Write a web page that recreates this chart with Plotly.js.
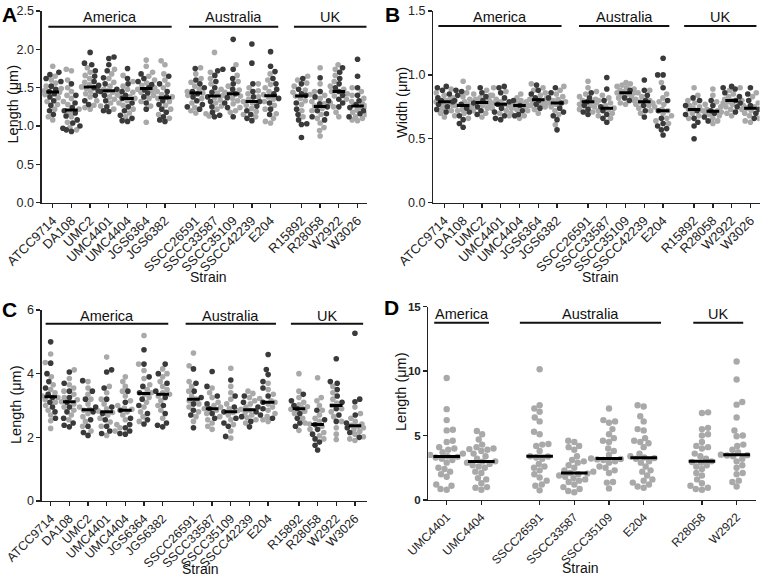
<!DOCTYPE html>
<html>
<head>
<meta charset="utf-8">
<script src="https://cdn.plot.ly/plotly-3.0.1.min.js"></script>
<style>html,body{margin:0;padding:0;background:#fff}#chart{width:760px;height:578px}</style>
</head>
<body>
<div id="chart"></div>
<script>
// ---------- categories ----------
const strainsABC = ['ATCC9714','DA108','UMC2','UMC4401','UMC4404','JGS6364','JGS6382','SSCC26591','SSCC33587','SSCC35109','SSCC42239','E204','R15892','R28058','W2922','W3026'];
const posABC = [0,1,2,3,4,5,6,7.65,8.65,9.65,10.65,11.65,13.3,14.3,15.3,16.3];
const strainsD = ['UMC4401','UMC4404','SSCC26591','SSCC33587','SSCC35109','E204','R28058','W2922'];
const posD = [0,1,2.68,3.68,4.68,5.68,7.36,8.36];
const groupNames = ['America','Australia','UK'];

// ---------- Panel A: length (µm), two replicates (dark / light) ----------
const A_dark = [
 [1.70,1.67,1.62,1.58,1.52,1.48,1.45,1.42,1.38,1.33,1.27,1.20,1.15],
 [1.55,1.40,1.30,1.24,1.20,1.17,1.13,1.08,1.04,1.00,0.97,0.95,0.93],
 [1.96,1.82,1.80,1.72,1.65,1.58,1.53,1.50,1.46,1.40,1.33,1.28],
 [1.90,1.88,1.80,1.72,1.63,1.55,1.48,1.45,1.40,1.33,1.25,1.20,1.19],
 [1.75,1.62,1.55,1.45,1.40,1.36,1.30,1.25,1.20,1.14,1.10,1.07,1.06],
 [1.68,1.62,1.58,1.54,1.50,1.47,1.43,1.38,1.30,1.22],
 [1.65,1.55,1.45,1.38,1.33,1.28,1.22,1.18,1.12,1.08,1.06],
 [1.75,1.60,1.55,1.50,1.45,1.42,1.38,1.33,1.28,1.25,1.22],
 [1.74,1.72,1.66,1.58,1.50,1.44,1.38,1.32,1.25,1.18,1.14,1.12],
 [2.13,1.74,1.62,1.55,1.48,1.42,1.37,1.30,1.24,1.12],
 [2.07,1.82,1.55,1.45,1.38,1.32,1.26,1.20,1.15,1.10,1.07],
 [1.97,1.78,1.71,1.62,1.55,1.48,1.42,1.36,1.30,1.22,1.15],
 [1.62,1.55,1.48,1.42,1.40,1.30,1.22,1.15,1.08,1.03,1.02,0.85],
 [1.63,1.45,1.38,1.33,1.29,1.25,1.20,1.16,1.12,1.08],
 [1.76,1.70,1.62,1.55,1.50,1.45,1.40,1.35,1.30,1.25],
 [1.87,1.65,1.50,1.40,1.33,1.28,1.24,1.20,1.16,1.12]
];
const A_light = [
 [1.78,1.65,1.60,1.56,1.52,1.49,1.46,1.44,1.41,1.37,1.32,1.28,1.22,1.12,1.08],
 [1.74,1.72,1.60,1.50,1.45,1.40,1.36,1.32,1.28,1.22,1.18,1.12,1.05,0.98,0.95],
 [1.76,1.70,1.66,1.62,1.57,1.54,1.51,1.49,1.45,1.42,1.38,1.33,1.27,1.24,1.22],
 [1.74,1.68,1.62,1.57,1.52,1.48,1.46,1.44,1.41,1.38,1.35,1.30,1.26,1.22],
 [1.66,1.58,1.52,1.48,1.44,1.40,1.38,1.36,1.33,1.30,1.27,1.22,1.17,1.12],
 [1.86,1.78,1.70,1.65,1.60,1.56,1.53,1.50,1.48,1.46,1.44,1.40,1.36,1.32,1.26,1.05],
 [1.85,1.80,1.68,1.60,1.54,1.50,1.45,1.41,1.38,1.36,1.32,1.27,1.22,1.15,1.10],
 [1.76,1.68,1.62,1.57,1.52,1.48,1.45,1.43,1.40,1.36,1.30,1.24,1.20,1.17],
 [1.96,1.70,1.62,1.55,1.48,1.43,1.40,1.37,1.34,1.30,1.26,1.22,1.16,1.13],
 [1.80,1.66,1.58,1.52,1.47,1.44,1.42,1.39,1.36,1.33,1.29,1.24,1.20,1.18],
 [1.55,1.50,1.46,1.42,1.38,1.35,1.32,1.30,1.27,1.23,1.19,1.15,1.12],
 [1.68,1.60,1.54,1.50,1.45,1.41,1.38,1.35,1.32,1.27,1.22,1.16,1.10,1.06,1.04],
 [1.65,1.60,1.56,1.52,1.47,1.44,1.41,1.39,1.36,1.33,1.28,1.20,1.12],
 [1.76,1.55,1.45,1.40,1.36,1.32,1.29,1.26,1.23,1.20,1.15,1.10,1.04,0.98,0.94,0.87],
 [1.80,1.74,1.66,1.58,1.52,1.48,1.45,1.42,1.39,1.35,1.30,1.25,1.18,1.12],
 [1.50,1.45,1.40,1.36,1.32,1.29,1.26,1.24,1.21,1.18,1.15,1.12,1.10,1.08,1.07]
];

// ---------- Panel B: width (µm) ----------
const B_dark = [
 [0.91,0.90,0.88,0.85,0.82,0.80,0.79,0.77,0.75,0.73,0.71],
 [0.88,0.87,0.84,0.80,0.77,0.74,0.71,0.68,0.65,0.62,0.59],
 [0.90,0.86,0.83,0.80,0.78,0.75,0.72,0.69],
 [0.91,0.90,0.86,0.82,0.79,0.77,0.74,0.71,0.68,0.66,0.65],
 [0.80,0.76,0.72,0.69,0.68],
 [0.92,0.88,0.85,0.82,0.80,0.77,0.74],
 [0.90,0.86,0.82,0.78,0.74,0.71,0.68,0.65,0.57],
 [0.86,0.82,0.79,0.76,0.73,0.71,0.69],
 [0.98,0.89,0.80,0.75,0.72,0.69,0.66,0.63],
 [0.88,0.82,0.80],
 [0.96,0.88,0.84,0.80,0.76,0.72,0.67],
 [1.13,1.00,1.00,0.90,0.80,0.72,0.66,0.62,0.60,0.58,0.57,0.53],
 [0.82,0.80,0.76,0.72,0.69,0.66,0.63,0.60,0.50],
 [0.80,0.76,0.72,0.70,0.67,0.64],
 [0.91,0.90,0.89,0.86,0.83,0.80,0.78,0.75,0.71],
 [0.90,0.85,0.80,0.76,0.73,0.70,0.66]
];
const B_light = [
 [0.89,0.86,0.84,0.82,0.81,0.80,0.79,0.78,0.77,0.76,0.74,0.72,0.70,0.67],
 [0.95,0.90,0.86,0.83,0.81,0.79,0.77,0.76,0.75,0.73,0.72,0.70,0.68,0.66],
 [0.88,0.85,0.84,0.82,0.81,0.80,0.79,0.78,0.77,0.76,0.74,0.72,0.70,0.67],
 [0.90,0.87,0.84,0.81,0.79,0.78,0.77,0.76,0.74,0.72,0.70,0.68],
 [0.85,0.82,0.80,0.79,0.78,0.77,0.77,0.76,0.76,0.75,0.74,0.73,0.72,0.70,0.68,0.66],
 [0.93,0.90,0.88,0.86,0.84,0.82,0.81,0.80,0.79,0.78,0.77,0.76,0.75,0.73,0.70],
 [0.91,0.88,0.85,0.83,0.81,0.80,0.79,0.78,0.77,0.75,0.72,0.69,0.61],
 [0.95,0.90,0.87,0.85,0.83,0.81,0.80,0.79,0.78,0.77,0.76,0.75,0.73,0.71],
 [0.84,0.82,0.80,0.78,0.76,0.74,0.73,0.72,0.70,0.68,0.66],
 [0.94,0.93,0.92,0.91,0.90,0.89,0.88,0.87,0.86,0.86,0.85,0.84,0.83,0.82,0.80,0.78,0.77],
 [0.88,0.86,0.83,0.81,0.80,0.79,0.78,0.77,0.76,0.74,0.72,0.70],
 [0.94,0.85,0.82,0.79,0.77,0.75,0.73,0.72,0.70,0.68,0.66,0.64,0.62],
 [0.90,0.84,0.80,0.78,0.76,0.75,0.74,0.73,0.72,0.70,0.68,0.66],
 [0.89,0.84,0.79,0.77,0.75,0.73,0.72,0.71,0.70,0.69,0.68,0.66,0.64,0.62],
 [0.90,0.88,0.85,0.83,0.81,0.80,0.79,0.78,0.77,0.75,0.73,0.70,0.68],
 [0.86,0.83,0.80,0.78,0.76,0.75,0.74,0.73,0.72,0.70,0.68,0.66,0.64,0.63]
];

// ---------- Panel C: length (µm) ----------
const C_dark = [
 [5.00,4.33,4.00,3.75,3.55,3.35,3.25,3.10,2.95,2.80,2.60],
 [4.05,3.70,3.45,3.25,3.10,2.95,2.80,2.60,2.45,2.38,2.33],
 [3.78,3.45,3.20,2.95,2.80,2.55,2.35,2.15,2.06],
 [4.12,4.05,3.55,3.20,2.95,2.75,2.55,2.35,2.20,2.12],
 [3.45,3.10,2.85,2.60,2.40,2.30,2.20,2.12,2.10],
 [4.75,4.30,3.90,3.60,3.40,3.20,3.00,2.75,2.55,2.42],
 [4.30,4.00,3.70,3.45,3.25,3.00,2.75,2.45,2.38,2.33],
 [4.15,3.70,3.45,3.25,3.05,2.85,2.70,2.30],
 [4.07,3.60,3.30,3.05,2.90,2.75,2.60],
 [3.80,3.30,2.95,2.80,2.60,2.45,2.35,2.03],
 [3.30,3.10,2.95,2.80,2.65,2.50,2.33],
 [4.60,4.13,3.97,3.75,3.55,3.30,3.10,2.90,2.70,2.60],
 [3.35,3.15,3.00,2.90,2.75,2.60,2.45,2.35],
 [2.85,2.55,2.40,2.25,2.10,1.95,1.85,1.75,1.60],
 [4.47,3.75,3.70,3.50,3.30,3.10,2.90,2.70,2.50],
 [5.27,3.20,3.12,2.70,2.45,2.30,2.15,2.00]
];
const C_light = [
 [4.62,4.35,3.90,3.65,3.50,3.40,3.30,3.25,3.18,3.10,3.00,2.85,2.70,2.52,2.28],
 [4.12,3.85,3.65,3.55,3.45,3.35,3.25,3.18,3.12,3.05,2.95,2.85,2.70,2.55],
 [3.75,3.55,3.35,3.20,3.05,2.95,2.88,2.85,2.75,2.65,2.50,2.35,2.20],
 [4.52,3.60,3.40,3.20,3.05,2.90,2.83,2.78,2.70,2.60,2.48,2.35,2.20,2.06],
 [3.90,3.75,3.60,3.45,3.30,3.15,3.00,2.92,2.88,2.80,2.70,2.55,2.40,2.30],
 [5.20,4.30,4.10,3.85,3.65,3.50,3.40,3.35,3.25,3.10,2.95,2.80,2.65,2.50],
 [4.15,4.00,3.90,3.75,3.60,3.50,3.40,3.35,3.30,3.15,3.00,2.85,2.60],
 [4.65,4.25,3.75,3.60,3.45,3.30,3.20,3.15,3.05,2.95,2.80,2.65,2.50],
 [3.55,3.40,3.25,3.10,3.00,2.95,2.90,2.85,2.75,2.65,2.55,2.45,2.35,2.25],
 [4.17,3.60,3.40,3.20,3.05,2.90,2.84,2.78,2.70,2.55,2.40,2.20,1.98],
 [3.45,3.38,3.25,3.15,3.05,2.95,2.88,2.85,2.78,2.70,2.62,2.55,2.45],
 [3.70,3.50,3.35,3.22,3.15,3.10,3.05,2.95,2.85,2.75,2.65,2.55,2.50],
 [4.00,3.45,3.25,3.10,3.02,2.96,2.93,2.88,2.82,2.75,2.60,2.45,2.22],
 [3.87,3.25,3.15,3.00,2.85,2.70,2.60,2.50,2.42,2.35,2.25,2.15,2.05,1.95],
 [3.60,3.40,3.20,3.08,3.00,2.90,2.80,2.65,2.50,2.30,2.10,1.93],
 [2.95,2.75,2.60,2.50,2.42,2.38,2.35,2.30,2.25,2.18,2.10,2.02,1.95,1.90]
];

// ---------- Panel D: length (µm), single series ----------
const D_vals = [
 [9.47,7.05,6.2,5.45,5.4,4.6,4.5,4.1,4.0,3.9,3.7,3.6,3.5,3.4,3.35,3.3,3.2,3.1,2.9,2.5,2.4,2.2,2.0,1.8,1.2,1.1,0.85,0.8],
 [5.35,5.1,4.7,4.3,4.1,4.0,3.95,3.9,3.8,3.6,3.4,3.2,3.0,2.98,2.9,2.8,2.7,2.6,2.5,2.2,2.1,1.7,1.6,1.3,1.0,0.8,0.95],
 [10.15,7.35,7.1,6.85,6.4,6.1,5.3,5.1,4.35,4.3,4.2,3.8,3.4,3.38,3.3,3.2,2.8,2.6,2.5,2.3,2.0,1.75,1.1,1.2,0.75,1.5],
 [4.6,4.5,4.2,4.1,3.9,3.4,3.1,3.0,2.9,2.7,2.5,2.3,2.2,2.1,2.05,2.0,1.9,1.8,1.7,1.6,1.5,1.4,1.2,1.0,0.85,0.7,0.6],
 [7.1,6.2,6.1,6.0,5.5,5.1,4.8,4.6,4.5,4.0,3.8,3.5,3.22,3.18,3.15,3.1,3.0,2.9,2.6,2.5,2.3,2.1,1.4,1.35,0.9],
 [7.35,7.25,6.5,6.1,5.5,5.4,4.8,4.6,4.5,4.4,4.1,3.6,3.4,3.3,3.25,3.2,3.0,2.9,2.6,2.3,2.2,1.9,1.6,1.5,1.35,1.2,1.05,0.95],
 [6.8,6.75,5.6,5.5,5.1,5.0,4.5,4.2,4.1,4.0,3.6,3.4,3.2,3.0,2.95,2.9,2.7,2.6,2.4,2.1,1.9,1.6,1.3,1.1,0.95,0.85,0.8],
 [10.75,9.35,7.6,7.4,6.4,5.4,5.0,4.95,4.3,4.2,3.9,3.7,3.52,3.48,3.45,3.4,3.2,3.0,2.7,2.5,2.1,2.0,1.5,1.4,1.05]
];

// ---------- helpers ----------
const FONT = 'Liberation Sans, Arial, sans-serif';
const DARK = '#3a3a3a', LIGHT = '#a9a9a9';

function median(a){const s=a.slice().sort((x,y)=>x-y);const n=s.length;return n%2?s[(n-1)/2]:(s[n/2-1]+s[n/2])/2;}

// deterministic beeswarm: returns horizontal offsets (px) for values
function swarm(vals, ys, d, maxW){
  const idx = vals.map((v,i)=>i).sort((a,b)=>vals[a]-vals[b]);
  const placed=[]; const off=new Array(vals.length); let flip=1;
  for(const i of idx){
    const y=vals[i]*ys;
    const near=placed.filter(p=>Math.abs(p.y-y)<d);
    const cands=[0];
    near.forEach(p=>{const dx=Math.sqrt(Math.max(0,d*d-(p.y-y)*(p.y-y)));cands.push(p.x+dx,p.x-dx);});
    cands.sort((a,b)=>(Math.abs(a)-Math.abs(b))||(flip*(b-a)));
    flip=-flip;
    let best=null;
    for(const c of cands){
      if(Math.abs(c)>maxW) break;
      if(near.every(p=>(p.x-c)*(p.x-c)+(p.y-y)*(p.y-y)>=d*d-1e-6)){best=c;break;}
    }
    if(best===null){
      let bs=-1;
      for(let c=-maxW;c<=maxW+1e-9;c+=0.5){
        const m=Math.min(...near.map(p=>Math.hypot(p.x-c,p.y-y)));
        if(m>bs+1e-9){bs=m;best=c;}
      }
    }
    placed.push({x:best,y}); off[i]=best;
  }
  return off;
}

function panelTraces(pos, darkArr, lightArr, xa, ya, xs, ys, d, maxW, msize, medSize){
  const dx=[],dy=[],lx=[],ly=[],mx=[],my=[];
  pos.forEach((p,k)=>{
    const dk = darkArr ? darkArr[k] : [];
    const lk = lightArr[k];
    const all = dk.concat(lk);
    const off = swarm(all, ys, d, maxW);
    all.forEach((v,j)=>{
      const x = p + off[j]/xs;
      if(j<dk.length){dx.push(x);dy.push(v);} else {lx.push(x);ly.push(v);}
    });
    mx.push(p); my.push(median(all));
  });
  const tr=[];
  tr.push({type:'scatter',mode:'markers',x:lx,y:ly,xaxis:xa,yaxis:ya,marker:{color:LIGHT,size:msize,line:{width:0}},hoverinfo:'y',showlegend:false});
  if(darkArr) tr.push({type:'scatter',mode:'markers',x:dx,y:dy,xaxis:xa,yaxis:ya,marker:{color:DARK,size:msize,line:{width:0}},hoverinfo:'y',showlegend:false});
  tr.push({type:'scatter',mode:'markers',x:mx,y:my,xaxis:xa,yaxis:ya,marker:{symbol:'line-ew',size:medSize,line:{color:'#000',width:3}},hoverinfo:'y',showlegend:false});
  return tr;
}

const traces = [].concat(
  panelTraces(posABC, A_dark, A_light, 'x',  'y',  18.7, 76.7, 5.4, 8.5, 5.6, 9),
  panelTraces(posABC, B_dark, B_light, 'x2', 'y2', 18.8, 128,  5.4, 8.5, 5.6, 9),
  panelTraces(posABC, C_dark, C_light, 'x3', 'y3', 18.7, 31.8, 5.4, 8.5, 5.6, 9),
  panelTraces(posD,   null,   D_vals,  'x4', 'y4', 34.7, 12.9, 6.2, 20, 6.4, 19)
);

const axBase = {showline:true,linecolor:'#222',linewidth:1.3,ticks:'outside',ticklen:4,tickwidth:1.3,tickcolor:'#222',
  showgrid:false,zeroline:false,tickfont:{family:FONT,size:12.5,color:'#222'}};
function xAx(domain, range, vals, text, anchor, fs){return Object.assign({},axBase,{domain,range,tickmode:'array',tickvals:vals,ticktext:text,tickangle:-45,anchor,
  ticklabeloverflow:'allow',tickfont:{family:FONT,size:fs,color:'#222'}});}
function yAx(domain, range, vals, fmt, anchor, bold){const a=Object.assign({},axBase,{domain,range,tickmode:'array',tickvals:vals,tickformat:fmt,anchor});
  if(bold) a.tickfont={family:FONT,size:11.5,color:'#222',weight:'bold'}; return a;}

const W=760,H=578;
const layout = {
  width:W,height:H,margin:{l:0,r:0,t:0,b:0},paper_bgcolor:'#fff',plot_bgcolor:'rgba(0,0,0,0)',showlegend:false,
  xaxis:  xAx([41.7/W,366.7/W],[-0.59,16.79],posABC,strainsABC,'y',13),
  yaxis:  yAx([1-202.7/H,1-11/H],[0,2.5],[0,0.5,1,1.5,2,2.5],'.1f','x'),
  xaxis2: xAx([433.3/W,0.9995],[-0.59,16.79],posABC,strainsABC,'y2',13),
  yaxis2: yAx([1-202.7/H,1-11/H],[0,1.5],[0,0.5,1,1.5],'.1f','x2'),
  xaxis3: xAx([41.7/W,366.7/W],[-0.48,16.93],posABC,strainsABC,'y3',12.5),
  yaxis3: yAx([1-501/H,1-310/H],[0,6],[0,2,4,6],'d','x3'),
  xaxis4: xAx([428.3/W,755.7/W],[-0.53,8.91],posD,strainsD,'y4',12),
  yaxis4: yAx([1-500/H,1-306.7/H],[0,15],[0,5,10,15],'d','x4',true),
  shapes:[],annotations:[]
};

// group headers: [xref, yref, lines [[x0,x1],...], lineY, textY]
const groups = [
  ['x','y',[[-0.235,6.36],[7.29,12.06],[12.9,16.79]],0.918,0.969],
  ['x2','y2',[[-0.32,6.24],[7.17,11.98],[12.77,16.62]],0.922,0.969],
  ['x3','y3',[[-0.27,6.3],[7.23,12.07],[12.87,16.74]],0.928,0.967],
  ['x4','y4',[[-0.36,1.22],[2.11,6.18],[7.11,8.55]],0.917,0.962]
];
groups.forEach(g=>{
  g[2].forEach((seg,i)=>{
    layout.shapes.push({type:'line',xref:g[0],yref:g[1]+' domain',x0:seg[0],x1:seg[1],y0:g[3],y1:g[3],line:{color:'#111',width:2}});
    layout.annotations.push({xref:g[0],yref:g[1]+' domain',x:(seg[0]+seg[1])/2,y:g[4],text:groupNames[i],showarrow:false,
      xanchor:'center',yanchor:'middle',font:{family:FONT,size:14.5,color:'#111'}});
  });
});

// panel letters
[['A',0,1],['B',383,1],['C',0,296],['D',382,294]].forEach(p=>{
  layout.annotations.push({xref:'paper',yref:'paper',x:p[1]/W,y:1-p[2]/H,text:'<b>'+p[0]+'</b>',showarrow:false,
    xanchor:'left',yanchor:'top',font:{family:FONT,size:21,color:'#000'}});
});
// y titles
[['Length (μm)',12.5,105],['Width (μm)',402,103],['Length (μm)',16,405],['Length (μm)',401,392]].forEach(t=>{
  layout.annotations.push({xref:'paper',yref:'paper',x:t[1]/W,y:1-t[2]/H,text:t[0],textangle:-90,showarrow:false,
    xanchor:'center',yanchor:'middle',font:{family:FONT,size:14.5,color:'#111'}});
});
// x titles
[[208,277],[600,277],[200,569],[580,568]].forEach(t=>{
  layout.annotations.push({xref:'paper',yref:'paper',x:t[0]/W,y:1-t[1]/H,text:'Strain',showarrow:false,
    xanchor:'center',yanchor:'middle',font:{family:FONT,size:14,color:'#111'}});
});

Plotly.newPlot('chart', traces, layout, {staticPlot:true, displayModeBar:false});
</script>
</body>
</html>
